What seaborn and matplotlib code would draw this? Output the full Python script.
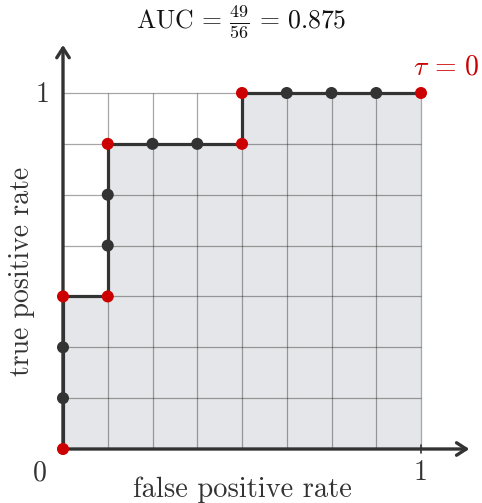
import numpy as np
import pandas as pd
import seaborn as sns
import matplotlib.pyplot as plt

sns.set_style("white")
plt.rcParams.update({
    "font.family": ["cmr10"],
    "mathtext.fontset": "cm",
    "axes.unicode_minus": False,
})

# ROC steps: counts of false / true positives (8 negatives, 7 positives)
fp_counts = [0, 0, 0, 0, 1, 1, 1, 1, 2, 3, 4, 4, 5, 6, 7, 8]
tp_counts = [0, 1, 2, 3, 3, 4, 5, 6, 6, 6, 6, 7, 7, 7, 7, 7]
corner = [1, 0, 0, 1, 1, 0, 0, 1, 0, 0, 1, 1, 0, 0, 0, 1]
n_neg, n_pos = 8, 7

df = pd.DataFrame({
    "fpr": np.array(fp_counts) / n_neg,
    "tpr": np.array(tp_counts) / n_pos,
    "kind": ["corner" if c else "step" for c in corner],
})

dark = "#333333"
red = "#cc0000"

fig = plt.figure(figsize=(4.82, 5.03), dpi=100)
W, H = 482, 503
unit_x, unit_y = 358, 356
x0, y0 = 63, 54  # pixel position of origin (from left, from bottom)
lo, hi = -0.1, 1.15
ax = fig.add_axes([(x0 + lo * unit_x) / W, (y0 + lo * unit_y) / H,
                   (hi - lo) * unit_x / W, (hi - lo) * unit_y / H])
ax.set_xlim(lo, hi)
ax.set_ylim(lo, hi)
ax.axis("off")

# area under curve
ax.fill_between(df["fpr"], df["tpr"], 0, color="#e5e6e9", lw=0, zorder=0)

# grid
ax.vlines(np.arange(1, n_neg + 1) / n_neg, 0, 1, color="k", alpha=0.35, lw=0.9, zorder=1)
ax.hlines(np.arange(1, n_pos + 1) / n_pos, 0, 1, color="k", alpha=0.35, lw=0.9, zorder=1)

# axes arrows
arrow = dict(arrowstyle="->,head_length=0.7,head_width=0.45", lw=2.4, color=dark,
             shrinkA=0, shrinkB=0)
ax.annotate("", xy=(1.135, 0), xytext=(0, 0), arrowprops=arrow, zorder=2)
ax.annotate("", xy=(0, 1.135), xytext=(0, 0), arrowprops=arrow, zorder=2)
ax.plot([1, 1], [-0.01, 0.01], color=dark, lw=1.2, zorder=2)

sns.lineplot(data=df, x="fpr", y="tpr", sort=False, estimator=None,
             color=dark, lw=2.3, ax=ax, zorder=3)
sns.scatterplot(data=df, x="fpr", y="tpr", hue="kind",
                palette={"corner": red, "step": dark}, s=75, linewidth=0,
                legend=False, ax=ax, zorder=4)

ax.text(-0.064, -0.068, "0", fontsize=20, color=dark, ha="center", va="center")
ax.text(1.0, -0.068, "1", fontsize=20, color=dark, ha="center", va="center")
ax.text(-0.058, 0.995, "1", fontsize=20, color=dark, ha="center", va="center")
ax.text(1.07, 1.072, r"$\tau\,=\,0$", fontsize=20, color=red, ha="center", va="center")
ax.text(0.5, -0.115, "false positive rate", fontsize=20.5, color=dark, ha="center", va="center")
ax.text(-0.115, 0.5, "true positive rate", fontsize=20, color=dark, ha="center",
        va="center", rotation=90)
fig.text(0.5, 1 - 22 / H, r"$\mathrm{AUC}\,=\,\frac{49}{56}\,=\,0.875$", fontsize=18.5,
         color="#111111", ha="center", va="center")

fig.savefig("out.png", dpi=100)
